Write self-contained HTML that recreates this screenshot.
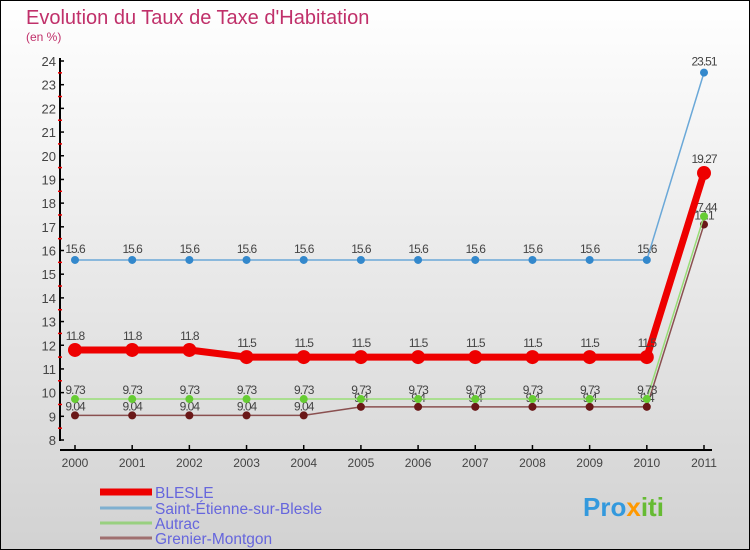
<!DOCTYPE html>
<html><head><meta charset="utf-8"><style>
body{margin:0;}
svg{display:block;font-family:"Liberation Sans",sans-serif;}
</style></head><body>
<svg id="c" width="750" height="550" viewBox="0 0 750 550">
<defs><linearGradient id="bg" x1="0" y1="0" x2="0" y2="1"><stop offset="0" stop-color="#ffffff"/><stop offset="1" stop-color="#d2d2d2"/></linearGradient></defs>
<rect x="0.5" y="0.5" width="749" height="549" fill="url(#bg)" stroke="#000"/>
<text x="26" y="24" font-size="20" fill="#c0306a">Evolution du Taux de Taxe d'Habitation</text>
<text x="26" y="41" font-size="12" fill="#c0306a">(en %)</text>
<g id="axes"></g><g id="series"></g>
<g>
<line x1="100" y1="492" x2="152" y2="492" stroke="#ee0000" stroke-width="7"/>
<text x="155" y="498" font-size="15.5" fill="#6666dd">BLESLE</text>
<line x1="100" y1="508" x2="152" y2="508" stroke="#7fb0d0" stroke-width="3"/>
<text x="155" y="514" font-size="15.5" fill="#6666dd">Saint-Étienne-sur-Blesle</text>
<line x1="100" y1="523" x2="152" y2="523" stroke="#99d080" stroke-width="3"/>
<text x="155" y="529" font-size="15.5" fill="#6666dd">Autrac</text>
<line x1="100" y1="538" x2="152" y2="538" stroke="#a07070" stroke-width="3"/>
<text x="155" y="544" font-size="15.5" fill="#6666dd">Grenier-Montgon</text>
</g>
<text x="583" y="516" font-size="26" font-weight="bold" fill="#3399dd">Pro<tspan fill="#ff9900">x</tspan><tspan fill="#66bb33">iti</tspan></text>
</svg>
<script>
const years=["2000","2001","2002","2003","2004","2005","2006","2007","2008","2009","2010","2011"];
const yTicks=[8,9,10,11,12,13,14,15,16,17,18,19,20,21,22,23,24];
const blesle=[11.8,11.8,11.8,11.5,11.5,11.5,11.5,11.5,11.5,11.5,11.5,19.27];
const stEtienne=[15.6,15.6,15.6,15.6,15.6,15.6,15.6,15.6,15.6,15.6,15.6,23.51];
const autrac=[9.73,9.73,9.73,9.73,9.73,9.73,9.73,9.73,9.73,9.73,9.73,17.44];
const grenier=[9.04,9.04,9.04,9.04,9.04,9.4,9.4,9.4,9.4,9.4,9.4,17.1];
const NS="http://www.w3.org/2000/svg";
const X=i=>75+i*(704-75)/(years.length-1);
const Y=v=>440-(v-8)*(440-61)/16;
function mk(tag,attrs,parent,text){const e=document.createElementNS(NS,tag);for(const k in attrs)e.setAttribute(k,attrs[k]);if(text!==undefined)e.textContent=text;parent.appendChild(e);return e;}
const ax=document.getElementById('axes');
let e=mk('line',{x1:60,y1:58,x2:60,y2:441,stroke:'#000','stroke-width':2},ax);


e=mk('line',{x1:60,y1:450,x2:712,y2:450,stroke:'#000','stroke-width':2},ax);


yTicks.forEach(v=>{
 mk('line',{x1:60,y1:Y(v),x2:64,y2:Y(v),stroke:'#000','stroke-width':1.5},ax);
 if(v<24)mk('line',{x1:58,y1:Y(v+0.5),x2:62,y2:Y(v+0.5),stroke:'#e00','stroke-width':1.5},ax);
 const t=mk('text',{x:56,y:Y(v)+5,'font-size':13,fill:'#444','text-anchor':'end'},ax,String(v));
 
 
});
years.forEach((y,i)=>{
 mk('line',{x1:X(i),y1:450,x2:X(i),y2:445,stroke:'#000','stroke-width':1.5},ax);
 const t=mk('text',{x:X(i),y:467,'font-size':12,fill:'#444','text-anchor':'middle'},ax,y);
 
 
});
const sg=document.getElementById('series');
function series(vals,color,w,r,name,dot,lblOff){
 const g=mk('g',{},sg);
 
 
 const pts=vals.map((v,i)=>X(i)+','+Y(v)).join(' ');
 const pl=mk('polyline',{points:pts,fill:'none',stroke:color,'stroke-width':w,'stroke-linejoin':'round'},g);
 
 
 vals.forEach((v,i)=>{
  const c=mk('circle',{cx:X(i),cy:Y(v),r:r,fill:dot},g);
  
  
  const t=mk('text',{x:X(i),y:Y(v)-lblOff,'font-size':12,fill:'#444','text-anchor':'middle','letter-spacing':'-1'},g,String(v));
  
  
 });
}
series(grenier,'#8a5050',1.5,4,'grenier-montgon','#6a1818',5);
series(autrac,'#99dd77',1.5,4,'autrac','#66cc33',5);
series(stEtienne,'#6aa8d8',1.5,4,'saint-etienne-sur-blesle','#3388cc',7);
series(blesle,'#ee0000',7,7,'blesle','#ee0000',10);
</script>
</body></html>
